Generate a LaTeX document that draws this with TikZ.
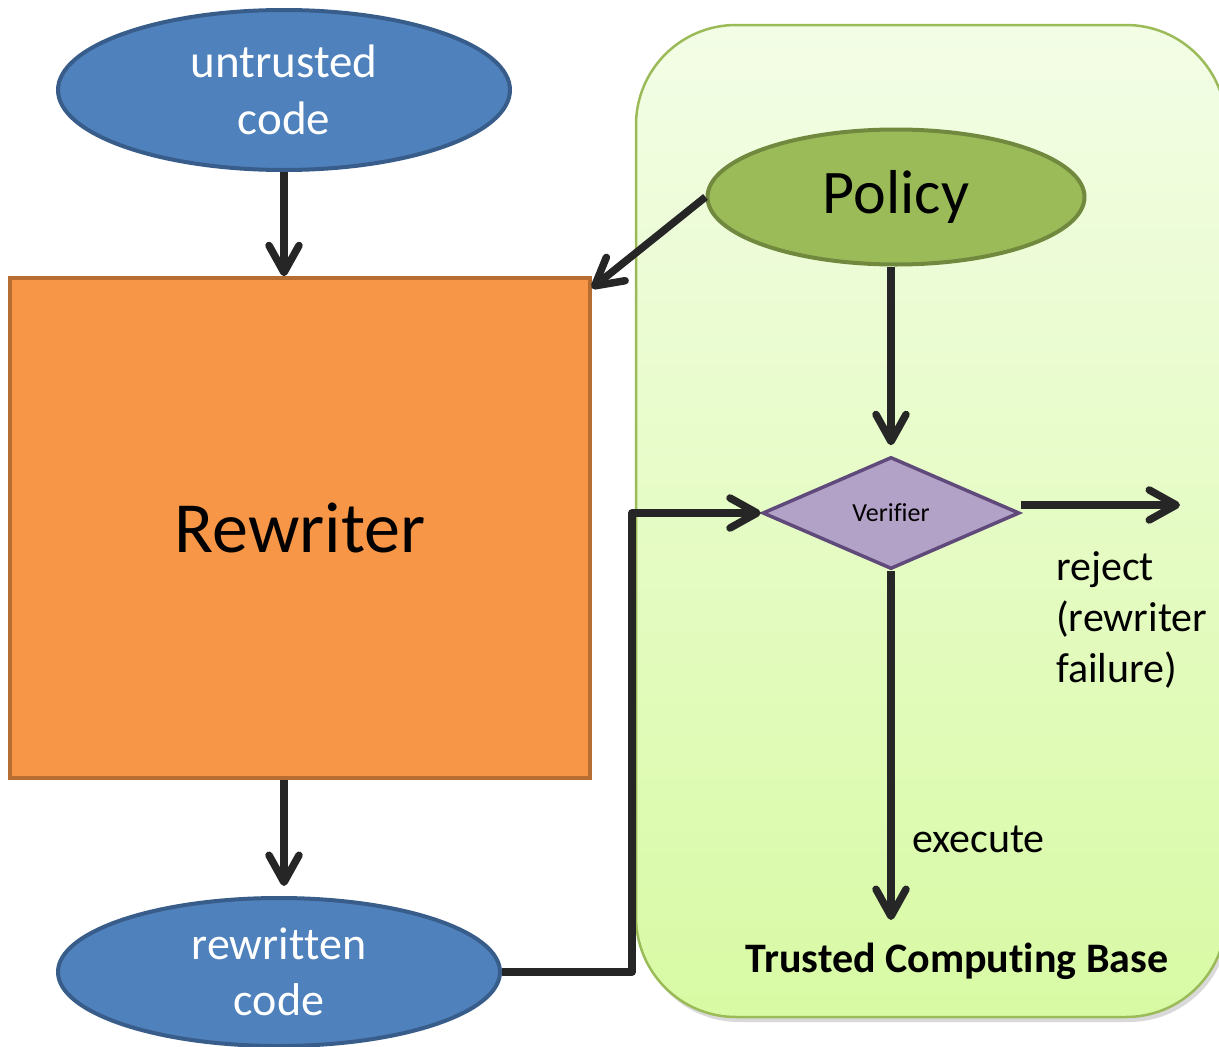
\documentclass[tikz,border=0pt]{standalone}
\usepackage{fontspec}
\setmainfont{Carlito}[Ligatures=CommonOff]
\usepackage{tikz}
\usetikzlibrary{arrows.meta, shapes.geometric, shadows, positioning}
\definecolor{codeblue}{HTML}{4F81BD}
\definecolor{codeblueedge}{HTML}{385D8A}
\definecolor{rworange}{HTML}{F79646}
\definecolor{rworangeedge}{HTML}{B66D31}
\definecolor{polgreen}{HTML}{9BBB59}
\definecolor{polgreenedge}{HTML}{71893F}
\definecolor{tcbtop}{HTML}{F3FDE6}
\definecolor{tcbbottom}{HTML}{D8FAA4}
\definecolor{vfpurple}{HTML}{B3A2C7}
\definecolor{vfpurpleedge}{HTML}{604A7B}
\definecolor{inkdark}{HTML}{262626}

\newcommand{\fsz}[1]{\fontsize{#1}{1.22\dimexpr#1pt\relax}\selectfont}

\begin{document}
\begin{tikzpicture}[x=1pt, y=-1pt]
  \tikzstyle{codeell}=[ellipse, draw=codeblueedge, fill=codeblue,
    line width=4pt, inner sep=0pt, text=white, align=center]
  \tikzstyle{arr}=[draw=inkdark, line width=7.5pt, line join=round,
    -{Straight Barb[length=27pt, width=30pt, line cap=round, line join=round]}]
  \tikzstyle{lbl}=[inner sep=0pt, align=left]

  \useasboundingbox (0,0) rectangle (1219,1047);

  % trusted computing base
  \node[draw=polgreen, line width=2.5pt, rounded corners=100pt,
    top color=tcbtop, bottom color=tcbbottom,
    drop shadow={shadow xshift=3pt, shadow yshift=-5pt, opacity=0.3},
    minimum width=590pt, minimum height=992pt, inner sep=0pt]
    (tcb) at (931,521) {};

  \node[codeell, minimum width=452pt, minimum height=160pt, font=\fsz{47}]
    (unt) at (284,90) {untrusted\\code};
  \node[draw=rworangeedge, fill=rworange, line width=3.5pt,
    minimum width=580pt, minimum height=500pt, inner sep=0pt, font=\fsz{72}]
    (rew) at (300,528) {Rewriter};
  \node[codeell, minimum width=442pt, minimum height=148pt, font=\fsz{46}]
    (rwc) at (279,972) {rewritten\\code};

  \node[ellipse, draw=polgreenedge, fill=polgreen, line width=4pt,
    minimum width=377pt, minimum height=135pt, inner sep=0pt, font=\fsz{62}]
    (pol) at (896,197) {Policy};
  \node[diamond, draw=vfpurpleedge, fill=vfpurple, line width=3.5pt,
    minimum width=257pt, minimum height=112pt, inner sep=0pt, font=\fsz{26}]
    (vf) at (891,513) {Verifier};

  \coordinate (jog) at (632,972);
  \coordinate (rej) at (1180,505);
  \coordinate (exe) at (891,920);

  \draw[arr] (unt.south) -- (rew.north -| unt.south);
  \draw[arr] (pol.west) -- ([yshift=-12pt]rew.north east);
  \draw[arr] (pol.south -| vf.north) -- ([yshift=10pt]vf.north);
  \draw[arr] (rew.south -| unt.south) -- ([yshift=10pt]rwc.north -| unt.south);
  \draw[arr] (rwc.east) -- (jog) |- (vf.west);
  \draw[arr] ([yshift=8pt]vf.east) -- (rej);
  \draw[arr] (vf.south) -- (exe);

  \node[lbl, anchor=north west, font=\fsz{42}] (rejtxt) at (1056,551)
    {reject\\(rewriter\\failure)};
  \node[lbl, anchor=west, font=\fsz{42}] (exetxt) at (912,839) {execute};
  \node[lbl, font=\fsz{42}\bfseries] (tcbtxt) at (957,961)
    {Trusted Computing Base};
\end{tikzpicture}
\end{document}
